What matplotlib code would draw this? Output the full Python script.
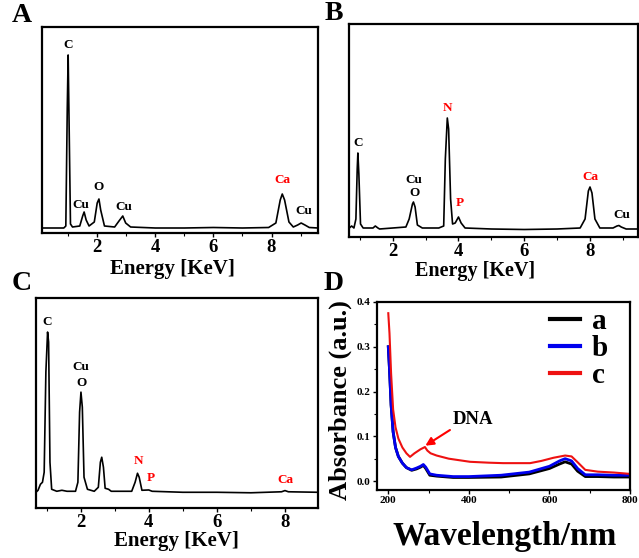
import matplotlib
matplotlib.use("Agg")
import matplotlib.pyplot as plt
from matplotlib.ticker import MultipleLocator

plt.rcParams['font.family'] = ['Liberation Serif', 'DejaVu Serif']
plt.rcParams['font.weight'] = 'bold'

# EDS spectra (energy in keV, intensity in arbitrary counts)
energy_a = [0.1, 0.85, 0.92, 0.97, 1.0, 1.03, 1.08, 1.15, 1.4, 1.5, 1.55, 1.62, 1.72, 1.9, 2.0, 2.06,
            2.12, 2.25, 2.6, 2.75, 2.88, 2.98, 3.15, 4.0, 5.0, 6.0, 7.0, 7.9, 8.15, 8.3, 8.37, 8.45,
            8.6, 8.75, 8.9, 9.02, 9.15, 9.3, 9.6]
counts_a = [0, 0, 2, 120, 173, 110, 4, 1, 2, 12, 16, 8, 2, 6, 25, 29,
            18, 2, 1, 7, 12, 5, 1, 0, 0, 0.5, 0, 0.5, 5, 28, 34, 28,
            6, 1, 3, 5, 3, 0.5, 0]

energy_b = [0.68, 0.75, 0.82, 0.88, 0.92, 0.94, 0.97, 1.02, 1.1, 1.4, 1.47, 1.55, 1.6, 2.0, 2.4, 2.5,
            2.6, 2.63, 2.68, 2.75, 2.8, 2.9, 3.4, 3.55, 3.6, 3.66, 3.7, 3.76, 3.82, 3.9, 4.0, 4.08,
            4.2, 5.0, 6.0, 7.0, 7.7, 7.85, 7.95, 8.0, 8.06, 8.15, 8.3, 8.7, 8.82, 8.88, 8.95, 9.1, 9.46]
counts_b = [1, 3, 1, 10, 60, 76, 55, 5, 1, 1, 3, 1, 0, 1, 2, 10,
            25, 27, 22, 4, 3, 1, 1, 3, 70, 111, 100, 30, 5, 6, 12, 6,
            1, 0, -0.5, 0, 1, 10, 38, 42, 36, 10, 1, 1, 3, 3.5, 2, 0, 0]

energy_c = [0.69, 0.75, 0.82, 0.88, 0.93, 0.98, 1.03, 1.06, 1.1, 1.15, 1.3, 1.45, 1.6, 1.85, 1.92, 1.97,
            2.01, 2.05, 2.1, 2.2, 2.4, 2.52, 2.58, 2.62, 2.67, 2.72, 2.82, 2.9, 3.5, 3.6, 3.67, 3.72,
            3.8, 4.0, 4.1, 5.0, 6.0, 7.0, 7.9, 8.0, 8.1, 8.97]
counts_c = [0, 2, 8, 10, 20, 120, 160, 150, 30, 3, 1, 2, 1, 1, 10, 80,
            100, 85, 15, 3, 1, 5, 30, 35, 25, 4, 3, 1, 1, 10, 19, 15,
            2, 2.3, 1, 0, 0, -0.5, 0.5, 1.7, 0.5, 0]

# element labels: (text, x, y, colour)
labels_a = [("C", 1.0, 183, "k"), ("Cu", 1.42, 23, "k"), ("O", 2.06, 41, "k"),
            ("Cu", 2.92, 21, "k"), ("Ca", 8.38, 48, "red"), ("Cu", 9.1, 17, "k")]
labels_b = [("C", 0.95, 86, "k"), ("Cu", 2.65, 49, "k"), ("O", 2.65, 36, "k"),
            ("N", 3.67, 121, "red"), ("P", 4.05, 26, "red"), ("Ca", 8.02, 52, "red"),
            ("Cu", 8.97, 14, "k")]
labels_c = [("C", 1.03, 170, "k"), ("Cu", 2.02, 125, "k"), ("O", 2.02, 109, "k"),
            ("N", 3.7, 31, "red"), ("P", 4.05, 14, "red"), ("Ca", 8.02, 12, "red")]

# UV-vis absorbance
wl_a = [200, 203, 207, 212, 218, 225, 235, 245, 258, 270, 280, 287, 293, 303, 320, 361, 400, 480,
        550, 600, 625, 639, 655, 670, 689, 720, 760, 800]
abs_a = [0.30, 0.25, 0.17, 0.11, 0.075, 0.055, 0.04, 0.03, 0.024, 0.027, 0.031, 0.035, 0.028, 0.013,
         0.011, 0.008, 0.008, 0.009, 0.016, 0.028, 0.038, 0.043, 0.038, 0.022, 0.010, 0.010, 0.009, 0.009]
wl_b = [200, 203, 207, 212, 218, 225, 235, 245, 258, 270, 280, 287, 293, 303, 320, 361, 400, 480,
        550, 600, 625, 639, 655, 670, 689, 720, 760, 800]
abs_b = [0.30, 0.25, 0.17, 0.11, 0.075, 0.055, 0.04, 0.03, 0.025, 0.029, 0.033, 0.037, 0.031, 0.016,
         0.013, 0.010, 0.010, 0.013, 0.020, 0.033, 0.045, 0.050, 0.045, 0.028, 0.014, 0.014, 0.013, 0.013]
wl_c = [200, 203, 207, 212, 218, 225, 235, 245, 254, 265, 280, 291, 297, 305, 320, 350, 403, 450,
        485, 552, 580, 610, 639, 655, 670, 689, 720, 760, 800]
abs_c = [0.375, 0.33, 0.24, 0.16, 0.12, 0.095, 0.075, 0.062, 0.054, 0.062, 0.071, 0.076, 0.068, 0.062,
         0.057, 0.05, 0.043, 0.041, 0.040, 0.040, 0.045, 0.052, 0.057, 0.055, 0.042, 0.025, 0.021,
         0.019, 0.016]

W, H = 639, 558
fig = plt.figure(figsize=(W / 100, H / 100), dpi=100)


def box(l, t, r, b):
    return [l / W, 1 - b / H, (r - l) / W, (b - t) / H]


def eds_axes(rect, energy, counts, labels, xlim, ylim):
    ax = fig.add_axes(rect)
    ax.plot(energy, counts, color='k', lw=1.2)
    for txt, x, y, c in labels:
        ax.text(x, y, txt, color=c, fontsize=9.5, ha='center', va='center', fontweight='bold')
    ax.set_xlim(*xlim)
    ax.set_ylim(*ylim)
    ax.set_yticks([])
    ax.xaxis.set_major_locator(MultipleLocator(2))
    ax.xaxis.set_minor_locator(MultipleLocator(1))
    ax.tick_params(axis='x', which='major', direction='out', length=3, width=1, pad=1.5, labelsize=13.5)
    ax.tick_params(axis='x', which='minor', direction='out', length=2, width=0.8)
    for lab in ax.get_xticklabels():
        lab.set_fontweight('bold')
    for s in ax.spines.values():
        s.set_linewidth(1.6)
    return ax


ax_a = eds_axes(box(42, 27, 318, 233), energy_a, counts_a, labels_a, (0.1, 9.6), (-5, 201))
ax_b = eds_axes(box(349, 24, 638, 237), energy_b, counts_b, labels_b, (0.67, 9.46), (-8, 205))
ax_c = eds_axes(box(36, 298, 318, 508), energy_c, counts_c, labels_c, (0.69, 8.97), (-15.7, 194))

# UV-vis panel
ax_d = fig.add_axes(box(377, 302, 630, 490))
ax_d.plot(wl_a, abs_a, color='k', lw=2, label='a')
ax_d.plot(wl_b, abs_b, color='#0000ee', lw=2, label='b')
ax_d.plot(wl_c, abs_c, color='#ee1111', lw=1.5, label='c')
ax_d.set_xlim(172, 800)
ax_d.set_ylim(-0.02, 0.4)
ax_d.xaxis.set_major_locator(MultipleLocator(200))
ax_d.xaxis.set_minor_locator(MultipleLocator(100))
ax_d.yaxis.set_major_locator(MultipleLocator(0.1))
ax_d.yaxis.set_minor_locator(MultipleLocator(0.05))
ax_d.tick_params(which='major', direction='out', length=3, width=1, pad=1.5, labelsize=8)
ax_d.tick_params(which='minor', direction='out', length=2, width=0.8)
for lab in ax_d.get_xticklabels() + ax_d.get_yticklabels():
    lab.set_fontweight('bold')
for s in ax_d.spines.values():
    s.set_linewidth(1.6)
leg = ax_d.legend(loc='upper right', frameon=False, fontsize=21, handlelength=1.05,
                  handletextpad=0.4, labelspacing=0.0, borderaxespad=0.0,
                  bbox_to_anchor=(0.96, 1.03))
for t in leg.get_texts():
    t.set_fontweight('bold')
for ln in leg.get_lines():
    ln.set_linewidth(3)
ax_d.annotate('DNA', xy=(292, 0.079), xytext=(360, 0.118), color='k', fontsize=13.5,
              fontweight='bold', va='bottom', ha='left',
              arrowprops=dict(arrowstyle='-|>', color='red', lw=1.5, mutation_scale=12,
                              shrinkA=0, shrinkB=0, relpos=(0, 0)))

# axis titles and panel letters
fig.text(172 / W, 1 - 269 / H, 'Energy [KeV]', fontsize=15, ha='center', va='center')
fig.text(475 / W, 1 - 271 / H, 'Energy [KeV]', fontsize=14.5, ha='center', va='center')
fig.text(176 / W, 1 - 541 / H, 'Energy [KeV]', fontsize=15, ha='center', va='center')
fig.text(505 / W, 1 - 536 / H, 'Wavelength/nm', fontsize=24, ha='center', va='center')
fig.text(340 / W, 1 - 400 / H, 'Absorbance (a.u.)', fontsize=19, ha='center', va='center', rotation=90)
for letter, x, y in [('A', 22, 16), ('B', 334, 14), ('C', 22, 283), ('D', 334, 283)]:
    fig.text(x / W, 1 - y / H, letter, fontsize=20, ha='center', va='center')

fig.savefig('out.png', dpi=100)
